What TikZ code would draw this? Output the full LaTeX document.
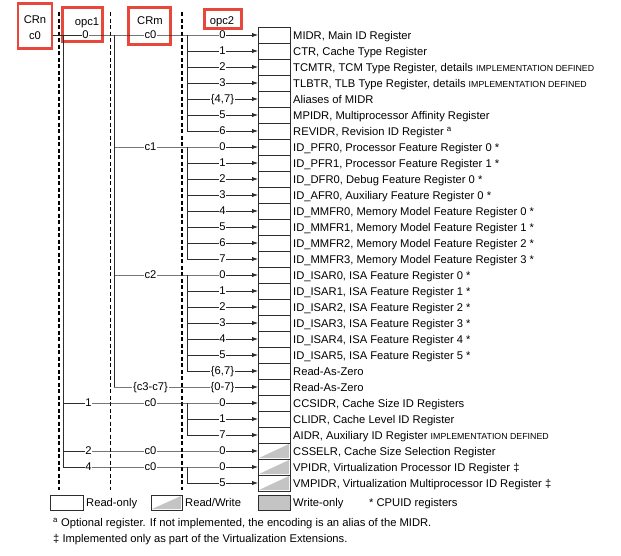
\documentclass[tikz,border=0pt]{standalone}
\usepackage{fontspec}
\setmainfont{Liberation Sans}
\usetikzlibrary{shapes,arrows.meta,positioning}
\definecolor{framered}{RGB}{232,72,60}
\definecolor{boxline}{RGB}{45,45,45}
\definecolor{rwgrey}{RGB}{196,196,196}
\newcommand{\impdef}{{\fontsize{8.8}{10}\selectfont IMPLEMENTATION DEFINED}}
\tikzstyle{RO} = [draw=boxline, rectangle, line width=0.9pt, minimum width=32, minimum height=16, inner sep=0pt, outer sep=0pt]
\tikzstyle{RW} = [RO, path picture={\fill[rwgrey] ([shift={(1pt,1pt)}]path picture bounding box.south west) -- ([shift={(-1pt,1pt)}]path picture bounding box.south east) -- ([shift={(-1pt,-1pt)}]path picture bounding box.north east) -- cycle;}]
\tikzstyle{WO} = [RO, fill=rwgrey]
\tikzstyle{Reg} = [anchor=west, inner sep=0pt, text height=8pt, text depth=0pt, font=\fontsize{11.2}{13}\selectfont]
\tikzstyle{Val} = [fill=white, inner sep=0.7pt, text height=8pt, text depth=0.3pt, font=\fontsize{11.2}{13}\selectfont]
\tikzstyle{Head} = [inner sep=0pt, text height=8pt, text depth=0pt, font=\fontsize{11.2}{13}\selectfont]
\tikzstyle{Frame} = [draw=framered, line width=2.6pt, rectangle, inner sep=0pt]
\tikzstyle{Bus} = [draw=boxline, line width=0.9pt]
\tikzstyle{Arrow} = [Bus, -{Latex[length=6pt,width=4.5pt]}]
\tikzstyle{Sep} = [draw=black, line width=1.1pt, dash pattern=on 4pt off 2.5pt]

\begin{document}
\begin{tikzpicture}[x=1pt, y=-1pt]
    \useasboundingbox (0,0) rectangle (621,555);
    % register boxes
    \node[RO] (r0) at (274,35)      {};
    \node[RO] (r1) [below=0pt of r0]  {};
    \node[RO] (r2) [below=0pt of r1]  {};
    \node[RO] (r3) [below=0pt of r2]  {};
    \node[RO] (r4) [below=0pt of r3]  {};
    \node[RO] (r5) [below=0pt of r4]  {};
    \node[RO] (r6) [below=0pt of r5]  {};
    \node[RO] (r7) [below=0pt of r6]  {};
    \node[RO] (r8) [below=0pt of r7]  {};
    \node[RO] (r9) [below=0pt of r8]  {};
    \node[RO] (r10) [below=0pt of r9]  {};
    \node[RO] (r11) [below=0pt of r10] {};
    \node[RO] (r12) [below=0pt of r11] {};
    \node[RO] (r13) [below=0pt of r12] {};
    \node[RO] (r14) [below=0pt of r13] {};
    \node[RO] (r15) [below=0pt of r14] {};
    \node[RO] (r16) [below=0pt of r15] {};
    \node[RO] (r17) [below=0pt of r16] {};
    \node[RO] (r18) [below=0pt of r17] {};
    \node[RO] (r19) [below=0pt of r18] {};
    \node[RO] (r20) [below=0pt of r19] {};
    \node[RO] (r21) [below=0pt of r20] {};
    \node[RO] (r22) [below=0pt of r21] {};
    \node[RO] (r23) [below=0pt of r22] {};
    \node[RO] (r24) [below=0pt of r23] {};
    \node[RO] (r25) [below=0pt of r24] {};
    \node[RW] (r26) [below=0pt of r25] {};
    \node[RW] (r27) [below=0pt of r26] {};
    \node[RW] (r28) [below=0pt of r27] {};
    % register names
    \node[Reg] (t0) [right=3pt of r0]   {MIDR, Main ID Register};
    \node[Reg] (t1) [right=3pt of r1]   {CTR, Cache Type Register};
    \node[Reg] (t2) [right=3pt of r2]   {TCMTR, TCM Type Register, details \impdef};
    \node[Reg] (t3) [right=3pt of r3]   {TLBTR, TLB Type Register, details \impdef};
    \node[Reg] (t4) [right=3pt of r4]   {Aliases of MIDR};
    \node[Reg] (t5) [right=3pt of r5]   {MPIDR, Multiprocessor Affinity Register};
    \node[Reg] (t6) [right=3pt of r6]   {REVIDR, Revision ID Register \textsuperscript{a}};
    \node[Reg] (t7) [right=3pt of r7]   {ID\_PFR0, Processor Feature Register 0 *};
    \node[Reg] (t8) [right=3pt of r8]   {ID\_PFR1, Processor Feature Register 1 *};
    \node[Reg] (t9) [right=3pt of r9]   {ID\_DFR0, Debug Feature Register 0 *};
    \node[Reg] (t10) [right=3pt of r10] {ID\_AFR0, Auxiliary Feature Register 0 *};
    \node[Reg] (t11) [right=3pt of r11] {ID\_MMFR0, Memory Model Feature Register 0 *};
    \node[Reg] (t12) [right=3pt of r12] {ID\_MMFR1, Memory Model Feature Register 1 *};
    \node[Reg] (t13) [right=3pt of r13] {ID\_MMFR2, Memory Model Feature Register 2 *};
    \node[Reg] (t14) [right=3pt of r14] {ID\_MMFR3, Memory Model Feature Register 3 *};
    \node[Reg] (t15) [right=3pt of r15] {ID\_ISAR0, ISA Feature Register 0 *};
    \node[Reg] (t16) [right=3pt of r16] {ID\_ISAR1, ISA Feature Register 1 *};
    \node[Reg] (t17) [right=3pt of r17] {ID\_ISAR2, ISA Feature Register 2 *};
    \node[Reg] (t18) [right=3pt of r18] {ID\_ISAR3, ISA Feature Register 3 *};
    \node[Reg] (t19) [right=3pt of r19] {ID\_ISAR4, ISA Feature Register 4 *};
    \node[Reg] (t20) [right=3pt of r20] {ID\_ISAR5, ISA Feature Register 5 *};
    \node[Reg] (t21) [right=3pt of r21] {Read-As-Zero};
    \node[Reg] (t22) [right=3pt of r22] {Read-As-Zero};
    \node[Reg] (t23) [right=3pt of r23] {CCSIDR, Cache Size ID Registers};
    \node[Reg] (t24) [right=3pt of r24] {CLIDR, Cache Level ID Register};
    \node[Reg] (t25) [right=3pt of r25] {AIDR, Auxiliary ID Register \impdef};
    \node[Reg] (t26) [right=3pt of r26] {CSSELR, Cache Size Selection Register};
    \node[Reg] (t27) [right=3pt of r27] {VPIDR, Virtualization Processor ID Register ‡};
    \node[Reg] (t28) [right=3pt of r28] {VMPIDR, Virtualization Multiprocessor ID Register ‡};
    % column headers
    \node[Frame, minimum width=34, minimum height=45] (crnframe) at (35,26) {};
    \node[Head] (crnhead) at (35,19) {CRn};
    \node[Head] (crnval)  at (35,35) {c0};
    \node[Frame, minimum width=40, minimum height=34] (opc1frame) at (82.5,24.5) {};
    \node[Head] (opc1head) at (87,21) {opc1};
    \node[Frame, minimum width=42, minimum height=37] (crmframe) at (149.5,26) {};
    \node[Head] (crmhead) at (150,20) {CRm};
    \node[Frame, minimum width=37, minimum height=19] (opc2frame) at (223,19) {};
    \node[Head] (opc2head) at (222,20) {opc2};
    % separators
    \draw[Sep] (59,12) -- (59,490);
    \draw[Sep] (110.5,12) -- (110.5,490);
    \draw[Sep] (182,12) -- (182,490);
    % buses
    \coordinate (opc1bus) at (63,0);
    \coordinate (crmbus)  at (114,0);
    \coordinate (opc2bus) at (187,0);
    \draw[Bus] (r0.west -| opc1bus) -- (r27.west -| opc1bus);
    \draw[Bus] (r0.west -| crmbus) -- (r22.west -| crmbus);
    \draw[Bus] (r0.west -| opc2bus) -- (r6.west -| opc2bus);
    \draw[Bus] (r7.west -| opc2bus) -- (r14.west -| opc2bus);
    \draw[Bus] (r15.west -| opc2bus) -- (r21.west -| opc2bus);
    \draw[Bus] (r23.west -| opc2bus) -- (r25.west -| opc2bus);
    \draw[Bus] (r27.west -| opc2bus) -- (r28.west -| opc2bus);
    % connectors
    \draw[Arrow] (crnframe.east |- r0.west) -- node[Val, pos=0.53] {0} (r0.west -| crmbus)
        -- node[Val] {c0} (r0.west -| opc2bus) -- node[Val] {0} (r0.west);
    \draw[Arrow] (r1.west -| opc2bus) -- node[Val] {1} (r1.west);
    \draw[Arrow] (r2.west -| opc2bus) -- node[Val] {2} (r2.west);
    \draw[Arrow] (r3.west -| opc2bus) -- node[Val] {3} (r3.west);
    \draw[Arrow] (r4.west -| opc2bus) -- node[Val] {\{4,7\}} (r4.west);
    \draw[Arrow] (r5.west -| opc2bus) -- node[Val] {5} (r5.west);
    \draw[Arrow] (r6.west -| opc2bus) -- node[Val] {6} (r6.west);
    \draw[Arrow] (r7.west -| crmbus) -- node[Val] {c1} (r7.west -| opc2bus) -- node[Val] {0} (r7.west);
    \draw[Arrow] (r8.west -| opc2bus) -- node[Val] {1} (r8.west);
    \draw[Arrow] (r9.west -| opc2bus) -- node[Val] {2} (r9.west);
    \draw[Arrow] (r10.west -| opc2bus) -- node[Val] {3} (r10.west);
    \draw[Arrow] (r11.west -| opc2bus) -- node[Val] {4} (r11.west);
    \draw[Arrow] (r12.west -| opc2bus) -- node[Val] {5} (r12.west);
    \draw[Arrow] (r13.west -| opc2bus) -- node[Val] {6} (r13.west);
    \draw[Arrow] (r14.west -| opc2bus) -- node[Val] {7} (r14.west);
    \draw[Arrow] (r15.west -| crmbus) -- node[Val] {c2} (r15.west -| opc2bus) -- node[Val] {0} (r15.west);
    \draw[Arrow] (r16.west -| opc2bus) -- node[Val] {1} (r16.west);
    \draw[Arrow] (r17.west -| opc2bus) -- node[Val] {2} (r17.west);
    \draw[Arrow] (r18.west -| opc2bus) -- node[Val] {3} (r18.west);
    \draw[Arrow] (r19.west -| opc2bus) -- node[Val] {4} (r19.west);
    \draw[Arrow] (r20.west -| opc2bus) -- node[Val] {5} (r20.west);
    \draw[Arrow] (r21.west -| opc2bus) -- node[Val] {\{6,7\}} (r21.west);
    \draw[Arrow] (r22.west -| crmbus) -- node[Val] {\{c3-c7\}} (r22.west -| opc2bus) -- node[Val] {\{0-7\}} (r22.west);
    \draw[Arrow] (r23.west -| opc1bus) -- node[Val] {1} (r23.west -| crmbus)
        -- node[Val] {c0} (r23.west -| opc2bus) -- node[Val] {0} (r23.west);
    \draw[Arrow] (r24.west -| opc2bus) -- node[Val] {1} (r24.west);
    \draw[Arrow] (r25.west -| opc2bus) -- node[Val] {7} (r25.west);
    \draw[Arrow] (r26.west -| opc1bus) -- node[Val] {2} (r26.west -| crmbus)
        -- node[Val] {c0} (r26.west -| opc2bus) -- node[Val] {0} (r26.west);
    \draw[Arrow] (r27.west -| opc1bus) -- node[Val] {4} (r27.west -| crmbus)
        -- node[Val] {c0} (r27.west -| opc2bus) -- node[Val] {0} (r27.west);
    \draw[Arrow] (r28.west -| opc2bus) -- node[Val] {5} (r28.west);
    % key
    \node[RO, minimum width=33, minimum height=15] (keyro) at (66.5,502.5) {};
    \node[Reg] (keyrotext) [right=3pt of keyro] {Read-only};
    \node[RW, minimum width=31, minimum height=15] (keyrw) at (166.5,502.5) {};
    \node[Reg] (keyrwtext) [right=3pt of keyrw] {Read/Write};
    \node[WO, minimum height=15] (keywo) at (274,502.5) {};
    \node[Reg] (keywotext) [right=3pt of keywo] {Write-only};
    \node[Reg] (cpuid) at (369,502.5) {* CPUID registers};
    % footnotes
    \node[Reg] (notea) at (53,522) {\textsuperscript{a} Optional register. If not implemented, the encoding is an alias of the MIDR.};
    \node[Reg] (noteb) at (53,538) {‡ Implemented only as part of the Virtualization Extensions.};
\end{tikzpicture}
\end{document}
